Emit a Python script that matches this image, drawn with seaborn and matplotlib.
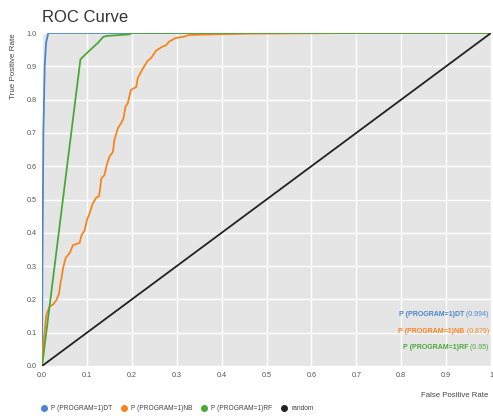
import pandas as pd
import seaborn as sns
import matplotlib.pyplot as plt
from matplotlib.lines import Line2D

# ROC points
fpr_dt = [0.0, 0.001, 0.003, 0.006, 0.009, 0.014, 1.0]
tpr_dt = [0.0, 0.30, 0.70, 0.90, 0.97, 1.0, 1.0]

fpr_nb = [0.0, 0.003, 0.007, 0.009, 0.012, 0.018, 0.025, 0.032, 0.038, 0.041, 0.044,
          0.047, 0.053, 0.062, 0.069, 0.084, 0.088, 0.095, 0.100, 0.106, 0.113, 0.121,
          0.127, 0.130, 0.132, 0.139, 0.144, 0.150, 0.158, 0.161, 0.169, 0.176, 0.181,
          0.186, 0.191, 0.198, 0.210, 0.213, 0.224, 0.235, 0.243, 0.254, 0.268, 0.276,
          0.283, 0.298, 0.316, 0.327, 0.386, 0.460, 0.700, 1.0]
tpr_nb = [0.0, 0.068, 0.118, 0.148, 0.163, 0.180, 0.185, 0.198, 0.218, 0.248, 0.268,
          0.295, 0.325, 0.340, 0.363, 0.370, 0.393, 0.408, 0.438, 0.458, 0.488, 0.506,
          0.510, 0.538, 0.563, 0.573, 0.603, 0.628, 0.643, 0.678, 0.714, 0.729, 0.741,
          0.779, 0.789, 0.829, 0.838, 0.864, 0.892, 0.916, 0.925, 0.947, 0.959, 0.963,
          0.974, 0.985, 0.989, 0.994, 0.996, 0.998, 1.0, 1.0]

fpr_rf = [0.0, 0.003, 0.0856, 0.100, 0.125, 0.136, 0.143, 0.195, 0.200, 1.0]
tpr_rf = [0.0, 0.03, 0.921, 0.940, 0.971, 0.988, 0.991, 0.996, 1.0, 1.0]

models = ['P (PROGRAM=1)DT', 'P (PROGRAM=1)NB', 'P (PROGRAM=1)RF', 'random']
aucs = ['0.994', '0.879', '0.95']
colors = ['#4a86c8', '#f7851e', '#4aa838', '#222222']

rows = []
for name, fx, ty in zip(models, [fpr_dt, fpr_nb, fpr_rf, [0, 1]],
                        [tpr_dt, tpr_nb, tpr_rf, [0, 1]]):
    for i, (a, b) in enumerate(zip(fx, ty)):
        rows.append({'model': name, 'order': i, 'fpr': a, 'tpr': b})
df = pd.DataFrame(rows)

sns.set_style('whitegrid', {'axes.facecolor': '#e5e5e5', 'grid.color': 'white',
                            'axes.edgecolor': '#e5e5e5'})
plt.rcParams['font.family'] = ['Liberation Sans', 'DejaVu Sans']

fig = plt.figure(figsize=(4.93, 4.16), dpi=100)
ax = fig.add_axes([42 / 493, 50 / 416, 449 / 493, 333 / 416])

sns.lineplot(data=df, x='fpr', y='tpr', hue='model', units='model', estimator=None,
             sort=False, palette=dict(zip(models, colors)), linewidth=1.3,
             legend=False, ax=ax)

ax.set_xlim(0, 1)
ax.set_ylim(0, 1)
ax.set_xticks([i / 10 for i in range(11)])
ax.set_xticklabels(['0.0', '0.1', '0.2', '0.3', '0.4', '0.5', '0.6', '0.7', '0.8', '0.9', '1'])
ax.set_yticks([i / 10 for i in range(11)])
ax.set_yticklabels(['%.1f' % (i / 10) for i in range(11)])
ax.tick_params(length=0, labelsize=5.2, colors='#555555', pad=4)
ax.grid(True, color='white', linewidth=1)
for s in ax.spines.values():
    s.set_visible(False)

ax.set_title('ROC Curve', loc='left', fontsize=12, color='#333333', pad=8)
ax.set_ylabel('True Positive Rate', fontsize=5.8, color='#444444', loc='top')
ax.yaxis.set_label_coords(-0.056, 1.0)
ax.set_xlabel('False Positive Rate', fontsize=5.6, color='#444444', loc='right')
ax.xaxis.set_label_coords(0.995, -0.078)

# AUC notes at lower right
for name, auc, c, yy in zip(models, aucs, colors, [0.156, 0.105, 0.057]):
    val = ax.text(0.995, yy, ' (' + auc + ')', transform=ax.transAxes, ha='right',
                  va='center', fontsize=5.0, color=c)
    ax.annotate(name, xy=(0, 0.5), xycoords=val, ha='right', va='center',
                fontsize=5.0, color=c, fontweight='bold')

handles = [Line2D([], [], marker='o', linestyle='none', color=c, markersize=4)
           for c in colors]
fig.legend(handles, models, loc='center left', bbox_to_anchor=(34 / 493, 1 - 409 / 416),
           ncol=4, frameon=False, fontsize=4.8, handletextpad=0.5, columnspacing=1.1,
           handlelength=1.2, labelcolor='#444444')

fig.savefig('out.png', dpi=100)
